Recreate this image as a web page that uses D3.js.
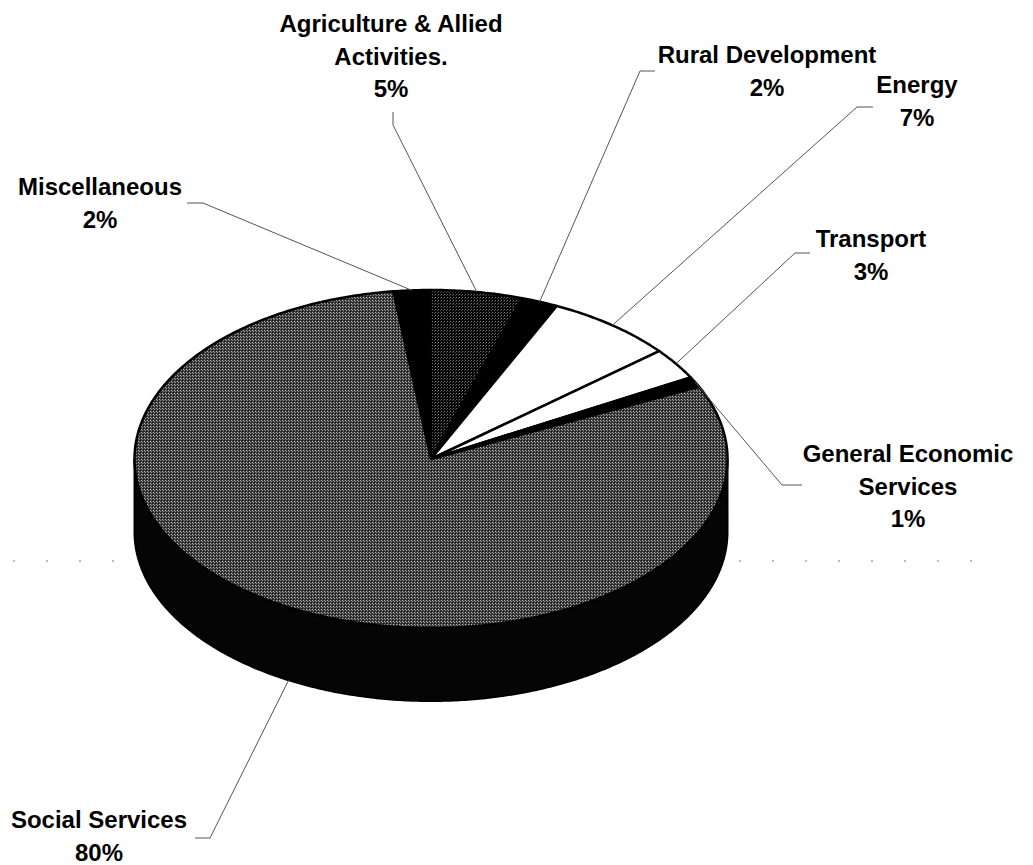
<!DOCTYPE html>
<html>
<head>
<meta charset="utf-8">
<script src="https://cdn.jsdelivr.net/npm/d3@7"></script>
<style>
  html, body { margin: 0; padding: 0; background: #fff; }
  svg { display: block; }
  text { font-family: "Liberation Sans", Arial, sans-serif; font-weight: bold; font-size: 24px; fill: #000; }
</style>
</head>
<body>
<script>
// ---- data ----
const categories = ["Miscellaneous", "Agriculture & Allied Activities.", "Rural Development", "Energy", "Transport", "General Economic Services", "Social Services"];
const labelLines = [["Miscellaneous"], ["Agriculture & Allied", "Activities."], ["Rural Development"], ["Energy"], ["Transport"], ["General Economic", "Services"], ["Social Services"]];
const shares = [2, 5, 2, 7, 3, 1, 80];

// ---- layout / style (not data) ----
const W = 1033, H = 865;
const cx = 431, cy = 459, rx = 296.5, ry = 169, depth = 73;
const startDeg = -7.3;
const fills = ["#000", "url(#agri)", "#000", "#fff", "#fff", "#000", "url(#social)"];
const labelPos = [[100, 195], [391, 32], [767, 63], [917, 93], [871, 247], [908, 462], [99, 828]];
const elbows = [
  [[187, 203], [203, 203]],
  [[393, 112], [393, 125]],
  [[655, 71], [640, 71]],
  [[873, 107], [857, 107]],
  [[810, 253], [795, 253]],
  [[802, 485], [782, 485]],
  [[195, 838], [210, 838]]
];
const lineGap = 32.5;

const svg = d3.select("body").append("svg").attr("width", W).attr("height", H);
const defs = svg.append("defs");
const pSoc = defs.append("pattern").attr("id", "social").attr("patternUnits", "userSpaceOnUse").attr("width", 3).attr("height", 3);
pSoc.append("rect").attr("width", 3).attr("height", 3).attr("fill", "#3a3a3a");
pSoc.append("rect").attr("x", 0).attr("y", 0).attr("width", 1).attr("height", 1).attr("fill", "#b8b8b8");
pSoc.append("rect").attr("x", 1).attr("y", 1).attr("width", 1).attr("height", 1).attr("fill", "#909090");
pSoc.append("rect").attr("x", 2).attr("y", 2).attr("width", 1).attr("height", 1).attr("fill", "#141414");
const pAg = defs.append("pattern").attr("id", "agri").attr("patternUnits", "userSpaceOnUse").attr("width", 3).attr("height", 3);
pAg.append("rect").attr("width", 3).attr("height", 3).attr("fill", "#050505");
pAg.append("rect").attr("x", 0).attr("y", 0).attr("width", 1).attr("height", 1).attr("fill", "#7a7a7a");
pAg.append("rect").attr("x", 2).attr("y", 1).attr("width", 1).attr("height", 1).attr("fill", "#444");

// dotted horizontal artifact line behind pie
svg.append("line").attr("x1", 13).attr("x2", 1000).attr("y1", 561).attr("y2", 561)
  .attr("stroke", "#777").attr("stroke-width", 1).attr("stroke-dasharray", "2,31");

const pie = d3.pie().sort(null).value(d => d)
  .startAngle(startDeg * Math.PI / 180)
  .endAngle(startDeg * Math.PI / 180 + 2 * Math.PI);
const arcs = pie(shares);

const P = (t, dy = 0) => [cx + rx * Math.sin(t), cy - ry * Math.cos(t) + dy];
const samples = (a0, a1, dy) => {
  const n = Math.max(2, Math.ceil(Math.abs(a1 - a0) / 0.01));
  return d3.range(n + 1).map(i => P(a0 + (a1 - a0) * i / n, dy));
};
const line = d3.line();

// side walls (front half only)
const gSide = svg.append("g");
arcs.forEach((a, i) => {
  const s = Math.max(a.startAngle, Math.PI / 2), e = Math.min(a.endAngle, 3 * Math.PI / 2);
  if (e <= s) return;
  const pts = samples(s, e, 0).concat(samples(e, s, depth));
  gSide.append("path").attr("d", line(pts) + "Z")
    .attr("fill", "#050505").attr("stroke", "#000").attr("stroke-width", 2);
});

// top faces
const gTop = svg.append("g");
arcs.forEach((a, i) => {
  const pts = [[cx, cy]].concat(samples(a.startAngle, a.endAngle, 0));
  gTop.append("path").attr("d", line(pts) + "Z")
    .attr("fill", fills[i]).attr("stroke", "#000").attr("stroke-width", 2.5)
    .attr("stroke-linejoin", "round");
});

// leader lines
const gLead = svg.append("g");
arcs.forEach((a, i) => {
  const mid = (a.startAngle + a.endAngle) / 2;
  const front = Math.cos(mid) < -0.3;
  const anchor = P(mid, front ? depth : 0);
  const pts = elbows[i].concat([anchor]);
  gLead.append("path").attr("d", line(pts)).attr("fill", "none")
    .attr("stroke", "#555").attr("stroke-width", 1);
});

// labels
const gLab = svg.append("g");
arcs.forEach((a, i) => {
  const lines = labelLines[i].concat([shares[i] + "%"]);
  const t = gLab.append("text").attr("text-anchor", "middle");
  lines.forEach((s, j) => {
    t.append("tspan").attr("x", labelPos[i][0]).attr("y", labelPos[i][1] + j * lineGap).text(s);
  });
});
</script>
</body>
</html>
